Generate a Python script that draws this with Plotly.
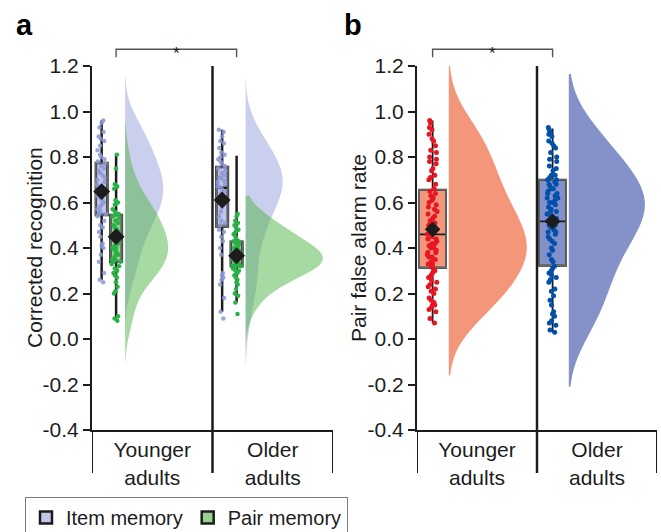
import plotly.graph_objects as go

# ---------------- data ----------------
cat_pos = [0.5, 1.5]
cat_text = ["Younger<br>adults", "Older<br>adults"]
y_tickvals = [-0.4, -0.2, 0.0, 0.2, 0.4, 0.6, 0.8, 1.0, 1.2]
y_ticktext = ["-0.4", "-0.2", "0.0", "0.2", "0.4", "0.6", "0.8", "1.0", "1.2"]
y_titles = ["Corrected recognition", "Pair false alarm rate"]

item_young = [0.96, 0.95, 0.93, 0.91, 0.89, 0.88, 0.87, 0.85, 0.83, 0.81, 0.80, 0.79, 0.78, 0.77,
              0.76, 0.75, 0.74, 0.73, 0.72, 0.71, 0.70, 0.69, 0.68, 0.67, 0.66, 0.65, 0.65,
              0.64, 0.63, 0.62, 0.61, 0.60, 0.59, 0.58, 0.57, 0.56, 0.55, 0.55, 0.54,
              0.52, 0.50, 0.49, 0.47, 0.45, 0.42, 0.41, 0.40, 0.37, 0.34, 0.29, 0.26, 0.25]
pair_young = [0.81, 0.75, 0.68, 0.67, 0.66, 0.61, 0.60, 0.59, 0.57, 0.56, 0.55, 0.55, 0.54,
              0.53, 0.52, 0.51, 0.50, 0.49, 0.48, 0.47, 0.46, 0.45, 0.44, 0.44, 0.43, 0.42,
              0.41, 0.40, 0.40, 0.39, 0.38, 0.37, 0.37, 0.36, 0.35, 0.35, 0.34, 0.34, 0.33,
              0.32, 0.31, 0.30, 0.29, 0.28, 0.27, 0.25, 0.23, 0.21, 0.20, 0.10, 0.09, 0.08]
item_old = [0.92, 0.91, 0.89, 0.87, 0.86, 0.84, 0.82, 0.81, 0.80, 0.79, 0.78, 0.77, 0.76,
            0.75, 0.74, 0.73, 0.72, 0.71, 0.71, 0.70, 0.69, 0.69, 0.68, 0.67, 0.67, 0.66,
            0.65, 0.64, 0.63, 0.62, 0.61, 0.60, 0.59, 0.58, 0.56, 0.54, 0.52, 0.51, 0.50,
            0.48, 0.47, 0.45, 0.43, 0.40, 0.37, 0.29, 0.28, 0.27, 0.26, 0.24, 0.18, 0.12, 0.09]
pair_old = [0.55, 0.54, 0.52, 0.51, 0.50, 0.49, 0.48, 0.47, 0.46, 0.45, 0.44, 0.43, 0.43,
            0.42, 0.42, 0.41, 0.40, 0.40, 0.39, 0.39, 0.38, 0.38, 0.37, 0.37, 0.36, 0.36,
            0.35, 0.35, 0.35, 0.34, 0.34, 0.33, 0.33, 0.33, 0.32, 0.32, 0.32, 0.31, 0.31,
            0.30, 0.30, 0.29, 0.28, 0.27, 0.26, 0.25, 0.24, 0.22, 0.20, 0.19, 0.16, 0.11]
fa_young = [0.96, 0.95, 0.93, 0.92, 0.90, 0.88, 0.87, 0.85, 0.83, 0.82, 0.80, 0.79, 0.78, 0.77,
            0.75, 0.74, 0.72, 0.71, 0.70, 0.68, 0.66,
            0.65, 0.64, 0.63, 0.62, 0.61, 0.60, 0.59, 0.58, 0.57, 0.56, 0.55, 0.54, 0.53,
            0.52, 0.51, 0.50, 0.49, 0.48, 0.47, 0.46, 0.46,
            0.45, 0.44, 0.44, 0.43, 0.42, 0.42, 0.41, 0.40, 0.40, 0.39, 0.38, 0.38, 0.37,
            0.36, 0.36, 0.35, 0.34, 0.33, 0.33, 0.32, 0.31,
            0.30, 0.29, 0.28, 0.27, 0.26, 0.25, 0.24, 0.23, 0.22, 0.21, 0.20, 0.18, 0.17,
            0.16, 0.15, 0.15, 0.14, 0.13, 0.12, 0.09, 0.07]
fa_old = [0.93, 0.92, 0.91, 0.90, 0.89, 0.87, 0.86, 0.85, 0.84, 0.82, 0.80, 0.79, 0.78, 0.76,
          0.75, 0.74, 0.72, 0.72, 0.71, 0.70,
          0.70, 0.69, 0.68, 0.68, 0.67, 0.66, 0.66, 0.65, 0.64, 0.64, 0.63, 0.62, 0.62,
          0.61, 0.60, 0.60, 0.59, 0.58, 0.57, 0.56, 0.56, 0.55, 0.54, 0.54, 0.53, 0.52,
          0.52, 0.51, 0.50, 0.50, 0.49, 0.48, 0.47, 0.47, 0.46, 0.45, 0.44, 0.43, 0.42,
          0.40, 0.39, 0.37, 0.35, 0.34, 0.32,
          0.31, 0.30, 0.29, 0.28, 0.27, 0.26, 0.25, 0.22, 0.21, 0.19, 0.17, 0.15,
          0.12, 0.11, 0.10, 0.08, 0.07, 0.06, 0.04, 0.03]

# box summaries: [younger, older]
item_low = [0.26, 0.12]
item_q1 = [0.545, 0.495]
item_med = [0.65, 0.665]
item_q3 = [0.774, 0.756]
item_high = [0.96, 0.92]
item_mean = [0.648, 0.611]

pair_low = [0.09, 0.16]
pair_q1 = [0.34, 0.32]
pair_med = [0.45, 0.37]
pair_q3 = [0.545, 0.428]
pair_high = [0.815, 0.806]
pair_mean = [0.45, 0.366]

fa_low = [0.07, 0.03]
fa_q1 = [0.312, 0.322]
fa_med = [0.46, 0.517]
fa_q3 = [0.656, 0.70]
fa_high = [0.96, 0.925]
fa_mean = [0.482, 0.517]

# ---------------- style ----------------
FONT = "Liberation Sans, Arial, Helvetica, sans-serif"
INK = "#1c1c1c"
W, H = 661, 532
ML, MR, MT, MB = 0, 0, 65.7, 102
PH = H - MT - MB

ITEM_PT, ITEM_BOX, ITEM_VIO = "rgba(140,150,212,0.85)", "rgb(192,197,234)", "rgba(150,160,220,0.5)"
PAIR_PT, PAIR_BOX, PAIR_VIO = "rgb(40,178,70)", "rgb(152,208,142)", "rgba(80,180,70,0.5)"
RED_PT, RED_BOX, RED_VIO = "rgb(232,22,35)", "rgb(244,150,122)", "rgb(244,150,122)"
BLU_PT, BLU_BOX, BLU_VIO = "rgb(0,80,172)", "rgb(130,144,202)", "rgb(133,146,202)"

fig = go.Figure()


def add_box(xa, ya, pos, lo, q1, med, q3, hi, width, fill, wlw, name=None, legend=False):
    fig.add_trace(go.Box(x=[pos], lowerfence=[lo], q1=[q1], median=[med], q3=[q3], upperfence=[hi],
                         width=width, fillcolor=fill, line=dict(color=INK, width=wlw), whiskerwidth=0,
                         boxpoints=False, xaxis=xa, yaxis=ya, name=name or "", showlegend=legend,
                         hoverinfo="skip"))
    fig.add_trace(go.Box(x=[pos], lowerfence=[q1], q1=[q1], median=[q1], q3=[q3], upperfence=[q3],
                         width=width, fillcolor="rgba(0,0,0,0)", line=dict(color="#6a6a6a", width=1.6),
                         whiskerwidth=0, boxpoints=False, xaxis=xa, yaxis=ya, showlegend=False,
                         hoverinfo="skip"))


def add_points(xa, ya, pos, data, width, color, size, jitter):
    fig.add_trace(go.Box(y=data, x0=pos, width=width, boxpoints="all", jitter=jitter, pointpos=0,
                         fillcolor="rgba(0,0,0,0)", line=dict(color="rgba(0,0,0,0)", width=0),
                         whiskerwidth=0, marker=dict(color=color, size=size), xaxis=xa, yaxis=ya,
                         showlegend=False, hoverinfo="skip"))


def add_violin(xa, ya, pos, data, width, span, bw, fill):
    fig.add_trace(go.Violin(y=data, x0=pos, side="positive", width=width, spanmode="manual", span=span,
                            bandwidth=bw, points=False, fillcolor=fill, line=dict(width=0, color=fill),
                            xaxis=xa, yaxis=ya, showlegend=False, hoverinfo="skip"))


# panel a
A_ITEM, A_PAIR, A_VIO, A_BW = -0.42, -0.30, -0.225, 0.096
item_sets = [item_young, item_old]
pair_sets = [pair_young, pair_old]
item_vw = [0.315, 0.307]
pair_vw = [0.357, 0.64]
item_span = [[0.0, 1.15], [-0.12, 1.15]]
pair_span = [[-0.1, 0.95], [-0.13, 0.63]]
item_bwd = [0.085, 0.095]
pair_bwd = [0.08, 0.06]
for i, c in enumerate(cat_pos):
    add_violin("x", "y", c + A_VIO, item_sets[i], 2 * item_vw[i], item_span[i], item_bwd[i], ITEM_VIO)
    add_violin("x", "y", c + A_VIO, pair_sets[i], 2 * pair_vw[i], pair_span[i], pair_bwd[i], PAIR_VIO)
for i, c in enumerate(cat_pos):
    add_box("x", "y", c + A_ITEM, item_low[i], item_q1[i], item_med[i], item_q3[i], item_high[i],
            A_BW, ITEM_BOX, 2.5, "Item memory", i == 0)
    add_points("x", "y", c + A_ITEM, item_sets[i], A_BW, ITEM_PT, 4.5, 0.9)
    add_box("x", "y", c + A_PAIR, pair_low[i], pair_q1[i], pair_med[i], pair_q3[i], pair_high[i],
            A_BW, PAIR_BOX, 2.5, "Pair memory", i == 0)
    add_points("x", "y", c + A_PAIR, pair_sets[i], A_BW, PAIR_PT, 4.5, 0.9)
fig.add_trace(go.Scatter(x=[c + A_ITEM for c in cat_pos] + [c + A_PAIR for c in cat_pos],
                         y=item_mean + pair_mean, mode="markers", xaxis="x", yaxis="y",
                         marker=dict(symbol="diamond", size=13, color=INK), showlegend=False,
                         hoverinfo="skip"))

# panel b
B_BOX, B_VIO, B_BW = -0.37, -0.235, 0.225
fa_sets = [fa_young, fa_old]
fa_vw = [0.65, 0.633]
fa_span = [[-0.16, 1.2], [-0.21, 1.165]]
fa_bwd = [0.12, 0.13]
fa_pt = [RED_PT, BLU_PT]
fa_box = [RED_BOX, BLU_BOX]
fa_vio = [RED_VIO, BLU_VIO]
for i, c in enumerate(cat_pos):
    add_violin("x2", "y2", c + B_VIO, fa_sets[i], 2 * fa_vw[i], fa_span[i], fa_bwd[i], fa_vio[i])
    add_box("x2", "y2", c + B_BOX, fa_low[i], fa_q1[i], fa_med[i], fa_q3[i], fa_high[i],
            B_BW, fa_box[i], 1.8)
    add_points("x2", "y2", c + B_BOX, fa_sets[i], B_BW, fa_pt[i], 5, 0.45)
fig.add_trace(go.Scatter(x=[c + B_BOX for c in cat_pos], y=fa_mean, mode="markers", xaxis="x2",
                         yaxis="y2", marker=dict(symbol="diamond", size=12, color=INK),
                         showlegend=False, hoverinfo="skip"))

# ---------------- axes & decorations ----------------
below = -43 / PH
shapes = []
for xa in ["x", "x2"]:
    shapes.append(dict(type="line", xref=xa, yref="paper", x0=0, x1=0, y0=below, y1=0,
                       line=dict(color=INK, width=2)))
    shapes.append(dict(type="line", xref=xa, yref="paper", x0=1, x1=1, y0=below, y1=1,
                       line=dict(color=INK, width=2.5)))
    shapes.append(dict(type="line", xref=xa, yref="paper", x0=2, x1=2, y0=below, y1=0,
                       line=dict(color=INK, width=2)))

br_top = 1 + (MT - 49) / PH
br_end = 1 + (MT - 57) / PH
star_y = 1 + (MT - 42) / PH
brackets = [("x", cat_pos[0] + A_PAIR, cat_pos[1] + A_PAIR), ("x2", cat_pos[0] + B_BOX, cat_pos[1] + B_BOX)]
annotations = []
for xa, x0, x1 in brackets:
    shapes.append(dict(type="path", xref=xa, yref="paper",
                       path=f"M {x0},{br_end} L {x0},{br_top} L {x1},{br_top} L {x1},{br_end}",
                       line=dict(color="#555555", width=1.4)))
    annotations.append(dict(xref=xa, yref="paper", x=(x0 + x1) / 2, y=star_y, text="*",
                            showarrow=False, font=dict(family=FONT, size=17, color=INK)))

for txt, px in [("a", 14), ("b", 342)]:
    annotations.append(dict(xref="paper", yref="paper", x=px / W, y=1 + (MT - 25) / PH, text=f"<b>{txt}</b>",
                            xanchor="left", yanchor="middle", showarrow=False,
                            font=dict(family=FONT, size=29, color="black")))

# y-axis titles (placed as rotated annotations)
for txt, px in zip(y_titles, [34, 358]):
    annotations.append(dict(xref="paper", yref="paper", x=px / W, y=0.5, text=txt, textangle=-90,
                            xanchor="center", yanchor="middle", showarrow=False,
                            font=dict(family=FONT, size=21, color=INK)))

tick_font = dict(family=FONT, size=21, color=INK)
cat_font = dict(family=FONT, size=21, color=INK)


def xax(dom, anchor):
    return dict(domain=dom, range=[0, 2], anchor=anchor, tickvals=cat_pos, ticktext=cat_text, ticks="",
                showline=True, linewidth=2, linecolor=INK, showgrid=False, zeroline=False,
                tickfont=cat_font, fixedrange=True)


def yax(anchor):
    return dict(range=[-0.4, 1.2], anchor=anchor, tickvals=y_tickvals, ticktext=y_ticktext,
                ticks="outside", ticklen=7, tickwidth=2, tickcolor=INK, showline=True, linewidth=2,
                linecolor=INK, showgrid=False, zeroline=False, tickfont=tick_font)


fig.update_layout(
    width=W, height=H, margin=dict(l=ML, r=MR, t=MT, b=MB, autoexpand=False),
    plot_bgcolor="white", paper_bgcolor="white",
    xaxis=xax([92 / W, 333 / W], "y"), yaxis=yax("x"),
    xaxis2=xax([417 / W, 657 / W], "y2"), yaxis2=yax("x2"),
    boxmode="overlay", violinmode="overlay",
    shapes=shapes, annotations=annotations,
    showlegend=True,
    legend=dict(orientation="h", x=25 / W, xanchor="left", y=(H - MB - 497) / PH, yanchor="top",
                bordercolor="#7a7a7a", borderwidth=1, bgcolor="white",
                font=dict(family=FONT, size=20, color=INK), itemwidth=30, tracegroupgap=0),
)

fig.write_html("out.html")
